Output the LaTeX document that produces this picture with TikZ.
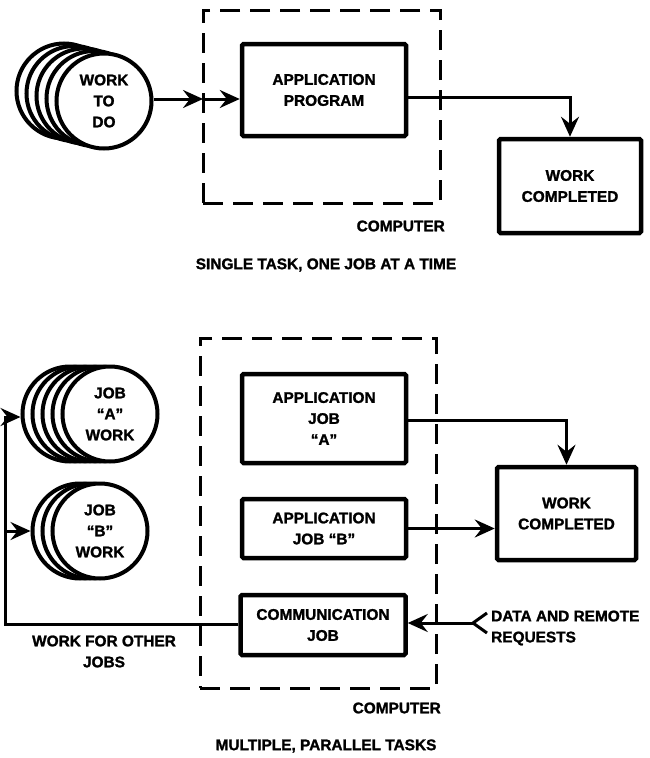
\documentclass[tikz,border=0pt]{standalone}
\usepackage{fontspec}
\setmainfont{Liberation Sans}[BoldFeatures={FakeBold=1.5}]
\usetikzlibrary{arrows.meta,calc}
\begin{document}
\begin{tikzpicture}[x=1pt,y=-1pt,
  txt/.style={font=\bfseries\fontsize{15.4}{21}\selectfont, align=center, inner sep=0pt},
  box/.style={txt, draw, line width=4.5pt, rounded corners=1.5pt},
  cpu/.style={draw, line width=3pt, dash pattern=on 20pt off 10pt, inner sep=0pt, outer sep=0pt},
  disc/.style={circle, draw, fill=white, line width=4pt, minimum size=95pt, inner sep=0pt, txt},
  conn/.style={line width=3pt},
  tip/.style={-{Stealth[length=20pt,width=18pt,inset=7pt]}}
]
\useasboundingbox (0,0) rectangle (650,758);

% ---------- top: single task ----------
\node[cpu, minimum width=237pt, minimum height=193pt] (comp1) at (321.5,106.5) {};
\node[txt, anchor=east] (lblc1) at (445,226) {COMPUTER};
\node[txt] (title1) at (326,265) {SINGLE TASK, ONE JOB AT A TIME};

\node[disc] (W1) at (64,91) {};
\node[disc] (W2) at (74,93.5) {};
\node[disc] (W3) at (84,96) {};
\node[disc] (W4) at (94,98.5) {};
\node[disc] (W5) at (104,101) {WORK\\TO\\DO};

\node[box, minimum width=164pt, minimum height=92pt] (app) at (324,90) {APPLICATION\\PROGRAM};
\node[box, minimum width=142pt, minimum height=94pt] (wc1) at (570,186) {WORK\\COMPLETED};

\coordinate (in1) at (W5.east |- 0,99);
\draw[conn,tip] (in1) -- (in1 -| comp1.west);
\draw[conn,tip] (in1 -| comp1.west) -- (in1 -| app.west);
\draw[conn,tip] (app.east |- 0,97) -| (wc1.north);

% ---------- bottom: multiple tasks ----------
\node[cpu, minimum width=236pt, minimum height=350pt] (comp2) at (318,513) {};
\node[txt, anchor=east] (lblc2) at (441,708) {COMPUTER};
\node[txt] (title2) at (326,746) {MULTIPLE, PARALLEL TASKS};

\node[disc] (A1) at (70,414) {};
\node[disc] (A2) at (80,414) {};
\node[disc] (A3) at (90,414) {};
\node[disc] (A4) at (100,414) {};
\node[disc] (A5) at (110,414) {JOB\\``A''\\WORK};

\node[disc] (B1) at (80,531) {};
\node[disc] (B2) at (90,531) {};
\node[disc] (B3) at (100,531) {JOB\\``B''\\WORK};

\node[box, minimum width=164pt, minimum height=89pt] (appA) at (324,418.5) {APPLICATION\\JOB\\``A''};
\node[box, minimum width=164pt, minimum height=59pt] (appB) at (324,528.5) {APPLICATION\\JOB ``B''};
\node[box, minimum width=165pt, minimum height=60pt] (comm) at (323,625) {COMMUNICATION\\JOB};
\node[box, minimum width=139pt, minimum height=93pt] (wc2) at (566.5,513.5) {WORK\\COMPLETED};

\draw[conn,tip] (appA.east |- 0,420) -| (wc2.north);
\draw[conn,tip] (appB.east) -- (appB.east -| wc2.west);

% data and remote requests
\coordinate (data) at (473,623);
\draw[conn] (487,613) -- (data) -- (487,633);
\draw[conn,tip] (data) -- (data -| comm.east);
\node[txt, anchor=west, align=left] (lbldata) at (491,628) {DATA AND REMOTE\\REQUESTS};

% feedback
\coordinate (fb) at (5,624);
\draw[conn,tip] (comm.west |- fb) -- (fb) -- (fb |- 0,417) -- (A1.west |- 0,417);
\draw[conn,tip] (fb |- B1.west) -- (B1.west);
\node[txt] (lblfb) at (104,651.5) {WORK FOR OTHER\\JOBS};
\end{tikzpicture}
\end{document}
